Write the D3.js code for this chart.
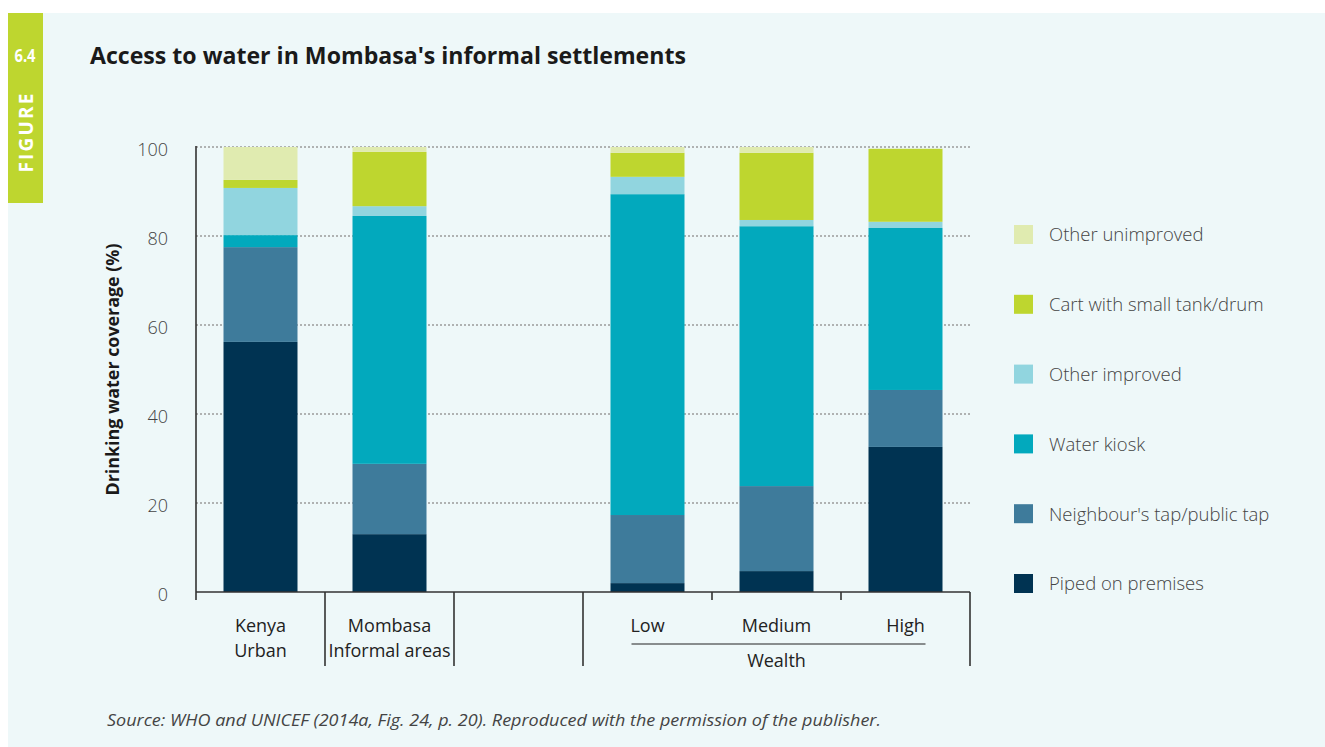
<!DOCTYPE html>
<html>
<head>
<meta charset="utf-8">
<script src="https://cdnjs.cloudflare.com/ajax/libs/d3/7.8.5/d3.min.js"></script>
<style>
  body { margin: 0; background: #fff; }
  text { font-family: "Open Sans", "Noto Sans", sans-serif; }
</style>
</head>
<body>
<div id="chart"></div>
<script>
// categories (blank slot is the gap between the two groups)
var categories = ["Kenya Urban", "Mombasa Informal areas", "", "Low", "Medium", "High"];
var categoryLines = [["Kenya", "Urban"], ["Mombasa", "Informal areas"], [], ["Low"], ["Medium"], ["High"]];

// series, bottom to top
var series = ["Piped on premises", "Neighbour's tap/public tap", "Water kiosk",
              "Other improved", "Cart with small tank/drum", "Other unimproved"];

// values per series, in category order (gap slot is null)
var piped       = [56.2, 13.0, null, 2.0, 4.7, 32.6];
var neighbour   = [21.3, 15.8, null, 15.3, 19.1, 12.8];
var kiosk       = [2.7, 55.7, null, 72.1, 58.4, 36.4];
var otherImp    = [10.6, 2.2, null, 3.9, 1.4, 1.4];
var cart        = [1.8, 12.2, null, 5.4, 15.1, 16.4];
var otherUnimp  = [7.4, 1.1, null, 1.3, 1.3, 0];

var yTicks = [0, 20, 40, 60, 80, 100];

var colors = ["#003352", "#3e7b9b", "#02a9bd", "#91d5df", "#bed62f", "#e0ebb0"];

var W = 1325, H = 747;
var svg = d3.select("#chart").append("svg")
    .attr("width", W)
    .attr("height", H);

// panel background
svg.append("rect")
    .attr("x", 8).attr("y", 13)
    .attr("width", W - 8).attr("height", H - 13)
    .attr("fill", "#eef8f9");

// figure tag
svg.append("rect")
    .attr("x", 8).attr("y", 13)
    .attr("width", 35).attr("height", 190)
    .attr("fill", "#bed62f");

svg.append("text")
    .attr("x", 25).attr("y", 62)
    .attr("text-anchor", "middle")
    .attr("fill", "#fff")
    .style("font-weight", "bold")
    .style("font-size", "18px")
    .attr("textLength", 21)
    .attr("lengthAdjust", "spacingAndGlyphs")
    .text("6.4");

svg.append("text")
    .attr("transform", "translate(33,133) rotate(-90)")
    .attr("text-anchor", "middle")
    .attr("fill", "#fff")
    .style("font-weight", "bold")
    .style("font-size", "19px")
    .attr("textLength", 79)
    .attr("lengthAdjust", "spacing")
    .text("FIGURE");

// title
svg.append("text")
    .attr("x", 90).attr("y", 64)
    .attr("fill", "#1a1a1a")
    .style("font-weight", "bold")
    .style("font-size", "23.5px")
    .attr("textLength", 596)
    .attr("lengthAdjust", "spacingAndGlyphs")
    .text("Access to water in Mombasa's informal settlements");

var plotLeft = 196, plotRight = 970, plotBase = 592, plotTop = 147;

var x = d3.scaleBand()
    .domain(categories)
    .range([plotLeft, plotRight])
    .paddingInner(0)
    .paddingOuter(0);

var barW = 74;

var y = d3.scaleLinear()
    .domain([0, 100])
    .range([plotBase, plotTop]);

var color = d3.scaleOrdinal().domain(series).range(colors);

// gridlines
svg.append("g")
    .selectAll("line")
    .data(yTicks.filter(function(d) { return d > 0; }))
    .join("line")
    .attr("x1", plotLeft).attr("x2", plotRight)
    .attr("y1", function(d) { return y(d); })
    .attr("y2", function(d) { return y(d); })
    .attr("stroke", "#9a9a9a")
    .attr("stroke-width", 1.3)
    .attr("stroke-dasharray", "2,2");

// stacked data
var rows = categories.map(function(c, i) {
    return {
        cat: c,
        "Piped on premises": piped[i] || 0,
        "Neighbour's tap/public tap": neighbour[i] || 0,
        "Water kiosk": kiosk[i] || 0,
        "Other improved": otherImp[i] || 0,
        "Cart with small tank/drum": cart[i] || 0,
        "Other unimproved": otherUnimp[i] || 0
    };
}).filter(function(d) { return d.cat !== ""; });

var stacked = d3.stack().keys(series)(rows);

svg.append("g")
    .selectAll("g")
    .data(stacked)
    .join("g")
    .attr("fill", function(d) { return color(d.key); })
    .selectAll("rect")
    .data(function(d) { return d; })
    .join("rect")
    .attr("x", function(d) { return x(d.data.cat) + (x.bandwidth() - barW) / 2; })
    .attr("width", barW)
    .attr("y", function(d) { return y(d[1]); })
    .attr("height", function(d) { return y(d[0]) - y(d[1]); });

// axes lines
var axisG = svg.append("g")
    .attr("stroke", "#333")
    .attr("stroke-width", 1.6);

axisG.append("line")
    .attr("x1", plotLeft).attr("x2", plotLeft)
    .attr("y1", plotTop - 1).attr("y2", plotBase + 8);

axisG.append("line")
    .attr("x1", plotLeft).attr("x2", plotRight)
    .attr("y1", plotBase).attr("y2", plotBase);

// section separators on the x axis
var edges = categories.map(function(c) { return x(c) + x.bandwidth(); });
axisG.selectAll("line.sep")
    .data(edges)
    .join("line")
    .attr("class", "sep")
    .attr("x1", function(d) { return d; })
    .attr("x2", function(d) { return d; })
    .attr("y1", plotBase)
    .attr("y2", function(d, i) {
        // short ticks between wealth bars
        return (i === 3 || i === 4) ? plotBase + 8 : plotBase + 74;
    });

// y tick labels
svg.append("g")
    .selectAll("text")
    .data(yTicks)
    .join("text")
    .attr("x", 168)
    .attr("y", function(d) { return y(d) + 3; })
    .attr("dy", "0.35em")
    .attr("text-anchor", "end")
    .attr("fill", "#444")
    .style("font-size", "18px")
    .style("font-weight", 300)
    .text(function(d) { return d; });

// y axis title
svg.append("text")
    .attr("transform", "translate(119," + ((plotTop + plotBase) / 2) + ") rotate(-90)")
    .attr("text-anchor", "middle")
    .attr("fill", "#1a1a1a")
    .style("font-weight", "bold")
    .style("font-size", "17px")
    .attr("textLength", 252)
    .attr("lengthAdjust", "spacingAndGlyphs")
    .text("Drinking water coverage (%)");

// category labels
var catG = svg.append("g")
    .selectAll("text")
    .data(categories)
    .join("text")
    .attr("x", function(d) { return x(d) + x.bandwidth() / 2; })
    .attr("y", 632)
    .attr("text-anchor", "middle")
    .attr("fill", "#222")
    .style("font-size", "18px");

catG.selectAll("tspan")
    .data(function(d, i) { return categoryLines[i]; })
    .join("tspan")
    .attr("x", function() { return d3.select(this.parentNode).attr("x"); })
    .attr("dy", function(d, i) { return i === 0 ? 0 : 25; })
    .text(function(d) { return d; });

// wealth group label
var wealthL = x("Low") + x.bandwidth() / 2 - 16;
var wealthR = x("High") + x.bandwidth() / 2 + 20;
svg.append("line")
    .attr("x1", wealthL).attr("x2", wealthR)
    .attr("y1", 644).attr("y2", 644)
    .attr("stroke", "#222")
    .attr("stroke-width", 1);

svg.append("text")
    .attr("x", x("Medium") + x.bandwidth() / 2)
    .attr("y", 667)
    .attr("text-anchor", "middle")
    .attr("fill", "#222")
    .style("font-size", "18px")
    .text("Wealth");

// legend (top = last series)
var legendItems = series.slice().reverse();
var legend = svg.append("g")
    .attr("transform", "translate(1014,235)");

var li = legend.selectAll("g")
    .data(legendItems)
    .join("g")
    .attr("transform", function(d, i) { return "translate(0," + (i * 69.8) + ")"; });

li.append("rect")
    .attr("x", 0).attr("y", -10)
    .attr("width", 19).attr("height", 19)
    .attr("fill", function(d) { return color(d); });

li.append("text")
    .attr("x", 35)
    .attr("y", 0)
    .attr("dy", "0.35em")
    .attr("fill", "#444")
    .style("font-size", "18.5px")
    .style("font-weight", 300)
    .text(function(d) { return d; });

// source note
svg.append("text")
    .attr("x", 107).attr("y", 726)
    .attr("fill", "#444")
    .style("font-style", "italic")
    .style("font-size", "17px")
    .attr("textLength", 774)
    .attr("lengthAdjust", "spacingAndGlyphs")
    .text("Source: WHO and UNICEF (2014a, Fig. 24, p. 20). Reproduced with the permission of the publisher.");
</script>
</body>
</html>
